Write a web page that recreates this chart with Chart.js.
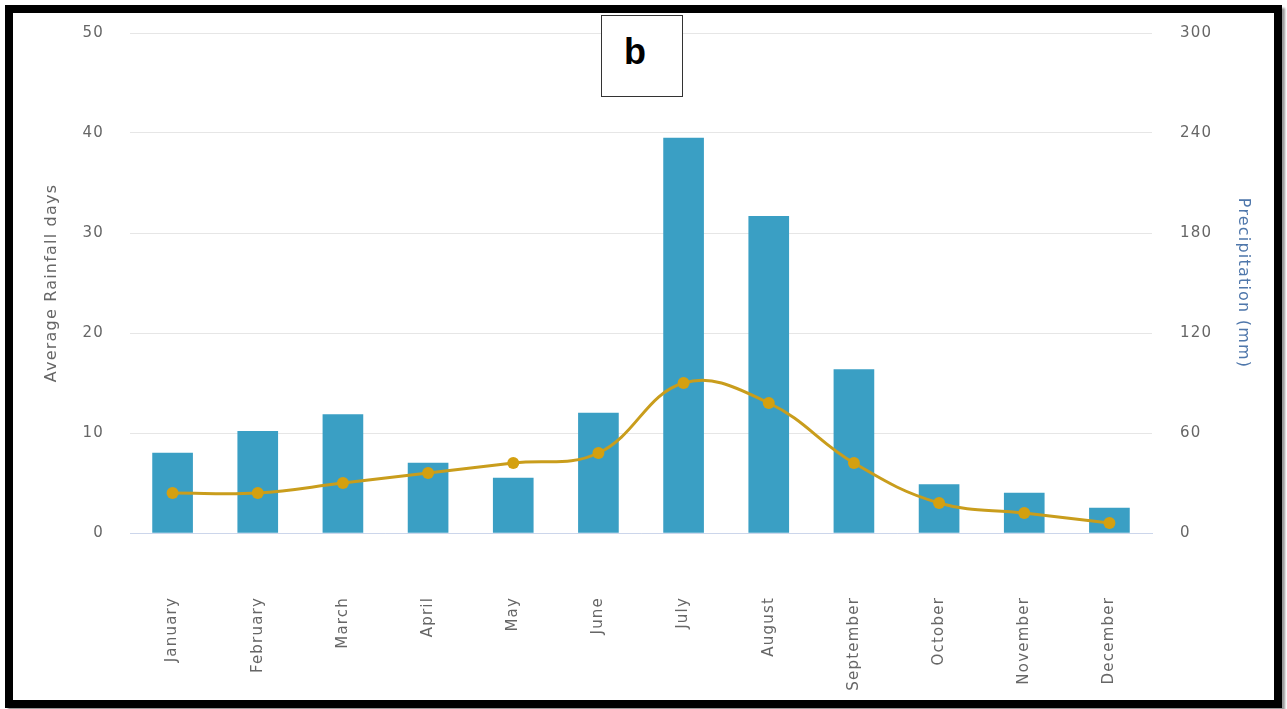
<!DOCTYPE html>
<html lang="en">
<head>
    <meta charset="UTF-8">
    <title>Rainfall days and precipitation</title>
    <script src="https://cdn.jsdelivr.net/npm/chart.js"></script>
    <style>
        body { margin: 0; background: #fff; }
        .frame {
            position: absolute; left: 5px; top: 5px;
            width: 1261px; height: 687px;
            border: 8px solid #000;
            box-shadow: 3px 3px 2px #999;
            background: #fff;
        }
        .frame canvas { position: absolute; left: 0; top: 0; }
        .tag {
            position: absolute; left: 601px; top: 15px;
            width: 82px; height: 82px;
            border: 1px solid #333; background: #fff;
            font: bold 36px "Liberation Sans", Arial, sans-serif;
            display: flex; align-items: center; justify-content: center;
            padding-right: 14px; box-sizing: border-box; padding-bottom: 8px;
        }
    </style>
</head>
<body>
    <div class="frame">
        <canvas id="rainChart" width="1261" height="687"></canvas>
    </div>
    <div class="tag">b</div>

    <script>
        // Data
        const months = ['January', 'February', 'March', 'April', 'May', 'June',
                        'July', 'August', 'September', 'October', 'November', 'December'];
        const rainfallDays = [4, 4, 5, 6, 7, 8, 15, 13, 7, 3, 2, 1];
        const precipitationMm = [48, 61, 71, 42, 33, 72, 237, 190, 98, 29, 24, 15];

        const tickFont = { family: '"DejaVu Sans", sans-serif', size: 15 };
        const titleFont = { family: '"DejaVu Sans", sans-serif', size: 16 };

        // slightly loose text like the original rendering
        const spacing = {
            id: 'spacing',
            beforeLayout(chart) { chart.ctx.letterSpacing = '1.2px'; },
            beforeDraw(chart) { chart.ctx.letterSpacing = '1.2px'; }
        };

        const ctx = document.getElementById('rainChart').getContext('2d');
        new Chart(ctx, {
            data: {
                labels: months,
                datasets: [{
                    type: 'line',
                    label: 'Average Rainfall days',
                    data: rainfallDays,
                    yAxisID: 'yDays',
                    borderColor: '#c99d1c',
                    backgroundColor: '#d4a010',
                    borderWidth: 3,
                    pointRadius: 6,
                    pointBorderWidth: 0,
                    pointBackgroundColor: '#d4a010',
                    tension: 0.4,
                    order: 0
                }, {
                    type: 'bar',
                    label: 'Precipitation (mm)',
                    data: precipitationMm,
                    yAxisID: 'yRain',
                    backgroundColor: '#3a9fc4',
                    barThickness: 40,
                    order: 1
                }]
            },
            options: {
                responsive: false,
                animation: false,
                layout: { padding: { top: 20, left: 0, right: 0, bottom: 0 } },
                plugins: {
                    legend: { display: false },
                    tooltip: { enabled: false }
                },
                scales: {
                    x: {
                        offset: true,
                        grid: { display: false, drawTicks: false },
                        border: { display: true, color: '#ccd6eb', width: 1 },
                        ticks: {
                            color: '#666', font: tickFont,
                            minRotation: 90, maxRotation: 90,
                            autoSkip: false, padding: 64
                        },
                        afterFit(scale) { scale.height = 167; }
                    },
                    yDays: {
                        position: 'left',
                        min: 0, max: 50,
                        // tick marks kept invisible, their length spaces the labels
                        grid: { color: '#e6e6e6', tickLength: 26, tickColor: 'rgba(0,0,0,0)' },
                        border: { display: false },
                        ticks: { stepSize: 10, color: '#666', font: tickFont, padding: 0 },
                        title: {
                            display: true, text: 'Average Rainfall days',
                            color: '#666', font: titleFont,
                            padding: { top: 29, bottom: 0 }
                        },
                        afterFit(scale) { scale.width = 117; }
                    },
                    yRain: {
                        position: 'right',
                        min: 0, max: 300,
                        grid: { color: 'rgba(0,0,0,0)', tickLength: 28, tickColor: 'rgba(0,0,0,0)' },
                        border: { display: false },
                        ticks: { stepSize: 60, color: '#666', font: tickFont, padding: 0 },
                        title: {
                            display: true, text: 'Precipitation (mm)',
                            color: '#4f77ab', font: titleFont,
                            padding: { top: 21, bottom: 0 }
                        },
                        afterFit(scale) { scale.width = 122; }
                    }
                }
            },
            plugins: [spacing]
        });
    </script>
</body>
</html>
